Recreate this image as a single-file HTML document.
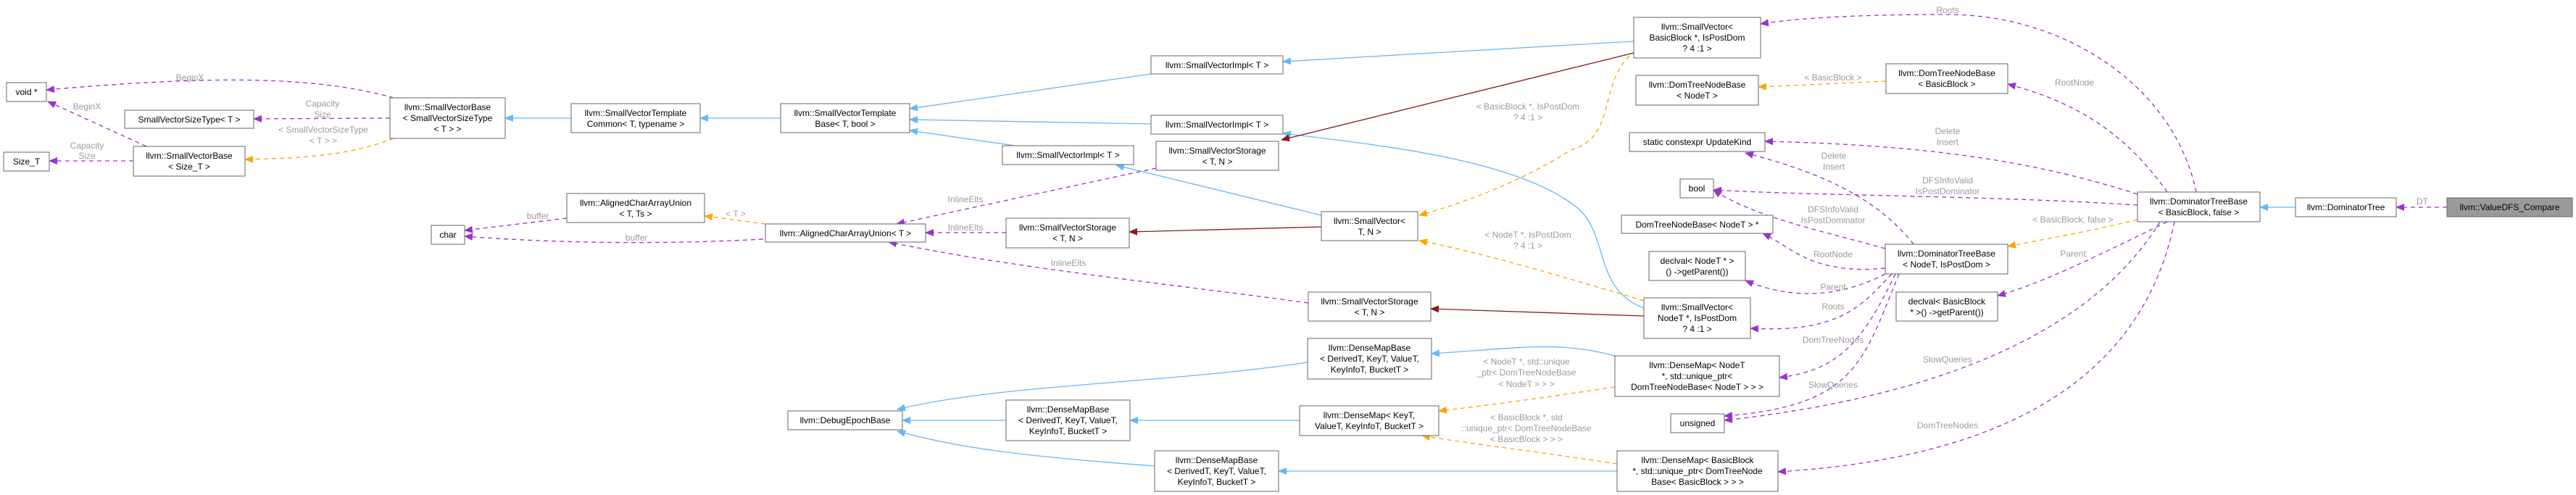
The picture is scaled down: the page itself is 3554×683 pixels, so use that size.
<!DOCTYPE html>
<html><head><meta charset="utf-8"><style>
html,body{margin:0;padding:0;background:#fff;width:3554px;height:683px;overflow:hidden}
svg{display:block}
.b{fill:#fff;stroke:#666;stroke-width:1}
.t{font-family:"Liberation Sans",sans-serif;font-size:12px;fill:#000;text-anchor:middle}
.l{font-family:"Liberation Sans",sans-serif;font-size:12px;fill:#9a9a9a;text-anchor:middle}
.bl{fill:none;stroke:#63b8ff;stroke-width:1.3}
.rd{fill:none;stroke:#8b1a1a;stroke-width:1.3}
.pu{fill:none;stroke:#9a32cd;stroke-width:1.3;stroke-dasharray:6,5}
.or{fill:none;stroke:#ffa500;stroke-width:1.3;stroke-dasharray:6,5}
</style></head><body>
<svg width="3554" height="683" viewBox="0 0 3554 683" xmlns="http://www.w3.org/2000/svg">
<defs>
<marker id="mb" markerWidth="12" markerHeight="10" refX="11" refY="5" orient="auto" markerUnits="userSpaceOnUse"><path d="M0,0L12,5L0,10z" fill="#63b8ff"/></marker>
<marker id="mr" markerWidth="12" markerHeight="10" refX="11" refY="5" orient="auto" markerUnits="userSpaceOnUse"><path d="M0,0L12,5L0,10z" fill="#8b1a1a"/></marker>
<marker id="mp" markerWidth="12" markerHeight="10" refX="11" refY="5" orient="auto" markerUnits="userSpaceOnUse"><path d="M0,0L12,5L0,10z" fill="#9a32cd"/></marker>
<marker id="mo" markerWidth="12" markerHeight="10" refX="11" refY="5" orient="auto" markerUnits="userSpaceOnUse"><path d="M0,0L12,5L0,10z" fill="#ffa500"/></marker>
</defs>

<!-- blue inheritance -->
<path class="bl" marker-end="url(#mb)" d="M788,163L697,163"/>
<path class="bl" marker-end="url(#mb)" d="M1077,163L966,163"/>
<path class="bl" marker-end="url(#mb)" d="M1588,102L1255,150"/>
<path class="bl" marker-end="url(#mb)" d="M1588,171L1255,165"/>
<path class="bl" marker-end="url(#mb)" d="M1400,201L1255,180"/>
<path class="bl" marker-end="url(#mb)" d="M2254,57L1770,85"/>
<path class="bl" marker-end="url(#mb)" d="M2268,425C2200,400 2220,330 2180,290C2100,220 1900,200 1770,184"/>
<path class="bl" marker-end="url(#mb)" d="M1823,297L1540,228"/>
<path class="bl" marker-end="url(#mb)" d="M3167,286L3118,286"/>
<path class="bl" marker-end="url(#mb)" d="M1388,580L1245,580"/>
<path class="bl" marker-end="url(#mb)" d="M1804,500C1600,530 1380,530 1238,565"/>
<path class="bl" marker-end="url(#mb)" d="M1593,643C1420,630 1330,620 1238,595"/>
<path class="bl" marker-end="url(#mb)" d="M2228,491C2150,470 2100,480 1975,488"/>
<path class="bl" marker-end="url(#mb)" d="M1793,580L1559,580"/>
<path class="bl" marker-end="url(#mb)" d="M2231,650L1764,650"/>

<!-- dark red -->
<path class="rd" marker-end="url(#mr)" d="M2254,73L1768,193"/>
<path class="rd" marker-end="url(#mr)" d="M1823,313L1558,320"/>
<path class="rd" marker-end="url(#mr)" d="M2268,436L1974,426"/>

<!-- orange -->
<path class="or" marker-end="url(#mo)" d="M543,191C480,215 420,218 338,220"/>
<path class="or" marker-end="url(#mo)" d="M1056,309L972,298"/>
<path class="or" marker-end="url(#mo)" d="M2248,77C2205,120 2230,190 2167,207C2100,250 2020,280 1958,297"/>
<path class="or" marker-end="url(#mo)" d="M2268,415C2150,380 2050,350 1958,332"/>
<path class="or" marker-end="url(#mo)" d="M2949,303C2880,320 2820,330 2770,340"/>
<path class="or" marker-end="url(#mo)" d="M2602,112L2426,120"/>
<path class="or" marker-end="url(#mo)" d="M2228,534C2120,550 2050,560 1985,567"/>
<path class="or" marker-end="url(#mo)" d="M2231,640C2100,620 2010,610 1962,601"/>

<!-- purple -->
<path class="pu" marker-end="url(#mp)" d="M543,135C420,100 250,108 64,124"/>
<path class="pu" marker-end="url(#mp)" d="M202,202L66,140"/>
<path class="pu" marker-end="url(#mp)" d="M538,163L350,164"/>
<path class="pu" marker-end="url(#mp)" d="M184,222L68,222"/>
<path class="pu" marker-end="url(#mp)" d="M782,301L641,318"/>
<path class="pu" marker-end="url(#mp)" d="M1053,330C900,338 760,335 641,326"/>
<path class="pu" marker-end="url(#mp)" d="M1595,232L1237,309"/>
<path class="pu" marker-end="url(#mp)" d="M1388,321L1277,321"/>
<path class="pu" marker-end="url(#mp)" d="M1805,418C1600,390 1400,370 1226,334"/>
<path class="pu" marker-end="url(#mp)" d="M3030,265C3000,120 2850,20 2687,20C2560,20 2480,25 2429,33"/>
<path class="pu" marker-end="url(#mp)" d="M2990,265C2930,180 2860,140 2770,116"/>
<path class="pu" marker-end="url(#mp)" d="M2949,268C2800,220 2650,200 2435,195"/>
<path class="pu" marker-end="url(#mp)" d="M2949,283C2750,270 2500,270 2364,262"/>
<path class="pu" marker-end="url(#mp)" d="M2990,306C2900,350 2820,390 2756,408"/>
<path class="pu" marker-end="url(#mp)" d="M2980,306C2880,470 2650,550 2379,580"/>
<path class="pu" marker-end="url(#mp)" d="M3000,306C2960,500 2800,630 2453,651"/>
<path class="pu" marker-end="url(#mp)" d="M2640,337C2580,260 2480,230 2408,211"/>
<path class="pu" marker-end="url(#mp)" d="M2601,343C2520,320 2420,300 2364,262"/>
<path class="pu" marker-end="url(#mp)" d="M2601,370C2500,380 2470,340 2432,322"/>
<path class="pu" marker-end="url(#mp)" d="M2601,378C2520,420 2450,405 2408,387"/>
<path class="pu" marker-end="url(#mp)" d="M2610,378C2570,420 2540,460 2415,453"/>
<path class="pu" marker-end="url(#mp)" d="M2615,378C2570,470 2540,510 2455,521"/>
<path class="pu" marker-end="url(#mp)" d="M2620,378C2570,500 2560,560 2379,574"/>
<path class="pu" marker-end="url(#mp)" d="M3376,286L3306,286"/>

<!-- edge labels -->
<text class="l" x="262" y="111">BeginX</text>
<text class="l" x="120" y="151">BeginX</text>
<text class="l" x="445" y="147">Capacity</text><text class="l" x="445" y="162">Size</text>
<text class="l" x="446" y="183">&lt; SmallVectorSizeType</text><text class="l" x="446" y="198">&lt; T &gt; &gt;</text>
<text class="l" x="120" y="205">Capacity</text><text class="l" x="120" y="219">Size</text>
<text class="l" x="742" y="302">buffer</text>
<text class="l" x="878" y="332">buffer</text>
<text class="l" x="1015" y="299">&lt; T &gt;</text>
<text class="l" x="1332" y="279">InlineElts</text>
<text class="l" x="1332" y="318">InlineElts</text>
<text class="l" x="1474" y="367">InlineElts</text>
<text class="l" x="2529" y="111">&lt; BasicBlock &gt;</text>
<text class="l" x="2108" y="151">&lt; BasicBlock *, IsPostDom</text><text class="l" x="2108" y="166">? 4 :1 &gt;</text>
<text class="l" x="2108" y="328">&lt; NodeT *, IsPostDom</text><text class="l" x="2108" y="343">? 4 :1 &gt;</text>
<text class="l" x="2530" y="219">Delete</text><text class="l" x="2530" y="234">Insert</text>
<text class="l" x="2529" y="293">DFSInfoValid</text><text class="l" x="2529" y="308">IsPostDominator</text>
<text class="l" x="2529" y="355">RootNode</text>
<text class="l" x="2529" y="400">Parent</text>
<text class="l" x="2529" y="427">Roots</text>
<text class="l" x="2529" y="473">DomTreeNodes</text>
<text class="l" x="2529" y="535">SlowQueries</text>
<text class="l" x="2687" y="18">Roots</text>
<text class="l" x="2862" y="118">RootNode</text>
<text class="l" x="2687" y="185">Delete</text><text class="l" x="2687" y="200">Insert</text>
<text class="l" x="2687" y="253">DFSInfoValid</text><text class="l" x="2687" y="268">IsPostDominator</text>
<text class="l" x="2860" y="307">&lt; BasicBlock, false &gt;</text>
<text class="l" x="2860" y="354">Parent</text>
<text class="l" x="2687" y="500">SlowQueries</text>
<text class="l" x="2687" y="591">DomTreeNodes</text>
<text class="l" x="3342" y="282">DT</text>
<text class="l" x="2106" y="503">&lt; NodeT *, std::unique</text><text class="l" x="2106" y="518">_ptr&lt; DomTreeNodeBase</text><text class="l" x="2106" y="534">&lt; NodeT &gt; &gt; &gt;</text>
<text class="l" x="2106" y="580">&lt; BasicBlock *, std</text><text class="l" x="2106" y="595">::unique_ptr&lt; DomTreeNodeBase</text><text class="l" x="2106" y="610">&lt; BasicBlock &gt; &gt; &gt;</text>

<!-- nodes -->
<rect class="b" x="9" y="114" width="55" height="26"/><text class="t" x="36.5" y="131">void *</text>
<rect class="b" x="172" y="152" width="178" height="25"/><text class="t" x="261" y="169">SmallVectorSizeType&lt; T &gt;</text>
<rect class="b" x="5" y="210" width="63" height="26"/><text class="t" x="36.5" y="227">Size_T</text>
<rect class="b" x="184" y="202" width="154" height="41"/><text class="t" x="261" y="219">llvm::SmallVectorBase</text><text class="t" x="261" y="234">&lt; Size_T &gt;</text>
<rect class="b" x="538" y="135" width="159" height="56"/><text class="t" x="617.5" y="152">llvm::SmallVectorBase</text><text class="t" x="617.5" y="167">&lt; SmallVectorSizeType</text><text class="t" x="617.5" y="182">&lt; T &gt; &gt;</text>
<rect class="b" x="788" y="143" width="178" height="40"/><text class="t" x="877" y="160">llvm::SmallVectorTemplate</text><text class="t" x="877" y="175">Common&lt; T, typename &gt;</text>
<rect class="b" x="782" y="267" width="190" height="40"/><text class="t" x="877" y="284">llvm::AlignedCharArrayUnion</text><text class="t" x="877" y="299">&lt; T, Ts &gt;</text>
<rect class="b" x="595" y="311" width="46" height="26"/><text class="t" x="618" y="328">char</text>
<rect class="b" x="1077" y="143" width="178" height="40"/><text class="t" x="1166" y="160">llvm::SmallVectorTemplate</text><text class="t" x="1166" y="175">Base&lt; T, bool &gt;</text>
<rect class="b" x="1588" y="77" width="182" height="25"/><text class="t" x="1679" y="94">llvm::SmallVectorImpl&lt; T &gt;</text>
<rect class="b" x="1588" y="159" width="182" height="26"/><text class="t" x="1679" y="176">llvm::SmallVectorImpl&lt; T &gt;</text>
<rect class="b" x="1383" y="201" width="181" height="26"/><text class="t" x="1473.5" y="218">llvm::SmallVectorImpl&lt; T &gt;</text>
<rect class="b" x="1595" y="195" width="169" height="40"/><text class="t" x="1679.5" y="212">llvm::SmallVectorStorage</text><text class="t" x="1679.5" y="227">&lt; T, N &gt;</text>
<rect class="b" x="1056" y="309" width="221" height="25"/><text class="t" x="1166.5" y="326">llvm::AlignedCharArrayUnion&lt; T &gt;</text>
<rect class="b" x="1388" y="301" width="170" height="41"/><text class="t" x="1473" y="318">llvm::SmallVectorStorage</text><text class="t" x="1473" y="333">&lt; T, N &gt;</text>
<rect class="b" x="2254" y="24" width="175" height="56"/><text class="t" x="2341.5" y="41">llvm::SmallVector&lt;</text><text class="t" x="2341.5" y="56">BasicBlock *, IsPostDom</text><text class="t" x="2341.5" y="71">? 4 :1 &gt;</text>
<rect class="b" x="2257" y="104" width="169" height="41"/><text class="t" x="2341.5" y="121">llvm::DomTreeNodeBase</text><text class="t" x="2341.5" y="136">&lt; NodeT &gt;</text>
<rect class="b" x="2248" y="183" width="187" height="26"/><text class="t" x="2341.5" y="200">static constexpr UpdateKind</text>
<rect class="b" x="2318" y="247" width="46" height="26"/><text class="t" x="2341" y="264">bool</text>
<rect class="b" x="2237" y="297" width="209" height="25"/><text class="t" x="2341.5" y="314">DomTreeNodeBase&lt; NodeT &gt; *</text>
<rect class="b" x="2275" y="347" width="133" height="40"/><text class="t" x="2341.5" y="364">declval&lt; NodeT * &gt;</text><text class="t" x="2341.5" y="379">() -&gt;getParent())</text>
<rect class="b" x="1823" y="292" width="133" height="40"/><text class="t" x="1889.5" y="309">llvm::SmallVector&lt;</text><text class="t" x="1889.5" y="324">T, N &gt;</text>
<rect class="b" x="1805" y="403" width="169" height="40"/><text class="t" x="1889.5" y="420">llvm::SmallVectorStorage</text><text class="t" x="1889.5" y="435">&lt; T, N &gt;</text>
<rect class="b" x="2268" y="411" width="147" height="56"/><text class="t" x="2341.5" y="428">llvm::SmallVector&lt;</text><text class="t" x="2341.5" y="443">NodeT *, IsPostDom</text><text class="t" x="2341.5" y="458">? 4 :1 &gt;</text>
<rect class="b" x="2601" y="337" width="169" height="41"/><text class="t" x="2685.5" y="354">llvm::DominatorTreeBase</text><text class="t" x="2685.5" y="369">&lt; NodeT, IsPostDom &gt;</text>
<rect class="b" x="2602" y="88" width="168" height="41"/><text class="t" x="2686" y="105">llvm::DomTreeNodeBase</text><text class="t" x="2686" y="120">&lt; BasicBlock &gt;</text>
<rect class="b" x="2949" y="265" width="169" height="41"/><text class="t" x="3033.5" y="282">llvm::DominatorTreeBase</text><text class="t" x="3033.5" y="297">&lt; BasicBlock, false &gt;</text>
<rect class="b" x="3167" y="273" width="139" height="26"/><text class="t" x="3236.5" y="290">llvm::DominatorTree</text>
<rect x="3376" y="273" width="173" height="26" fill="#999" stroke="#666"/><text class="t" x="3462.5" y="290">llvm::ValueDFS_Compare</text>
<rect class="b" x="2616" y="403" width="140" height="40"/><text class="t" x="2686" y="420">declval&lt; BasicBlock</text><text class="t" x="2686" y="435"> * &gt;() -&gt;getParent())</text>
<rect class="b" x="1087" y="567" width="158" height="26"/><text class="t" x="1166" y="584">llvm::DebugEpochBase</text>
<rect class="b" x="1388" y="552" width="171" height="56"/><text class="t" x="1473.5" y="569">llvm::DenseMapBase</text><text class="t" x="1473.5" y="584">&lt; DerivedT, KeyT, ValueT,</text><text class="t" x="1473.5" y="599">KeyInfoT, BucketT &gt;</text>
<rect class="b" x="1804" y="467" width="171" height="56"/><text class="t" x="1889.5" y="484">llvm::DenseMapBase</text><text class="t" x="1889.5" y="499">&lt; DerivedT, KeyT, ValueT,</text><text class="t" x="1889.5" y="514">KeyInfoT, BucketT &gt;</text>
<rect class="b" x="2228" y="491" width="227" height="56"/><text class="t" x="2341.5" y="508">llvm::DenseMap&lt; NodeT</text><text class="t" x="2341.5" y="523"> *, std::unique_ptr&lt;</text><text class="t" x="2341.5" y="538">DomTreeNodeBase&lt; NodeT &gt; &gt; &gt;</text>
<rect class="b" x="1793" y="560" width="192" height="41"/><text class="t" x="1889" y="577">llvm::DenseMap&lt; KeyT,</text><text class="t" x="1889" y="592">ValueT, KeyInfoT, BucketT &gt;</text>
<rect class="b" x="2305" y="571" width="74" height="26"/><text class="t" x="2342" y="588">unsigned</text>
<rect class="b" x="1593" y="622" width="171" height="56"/><text class="t" x="1678.5" y="639">llvm::DenseMapBase</text><text class="t" x="1678.5" y="654">&lt; DerivedT, KeyT, ValueT,</text><text class="t" x="1678.5" y="669">KeyInfoT, BucketT &gt;</text>
<rect class="b" x="2231" y="622" width="222" height="56"/><text class="t" x="2342" y="639">llvm::DenseMap&lt; BasicBlock</text><text class="t" x="2342" y="654"> *, std::unique_ptr&lt; DomTreeNode</text><text class="t" x="2342" y="669">Base&lt; BasicBlock &gt; &gt; &gt;</text>
</svg>
</body></html>
